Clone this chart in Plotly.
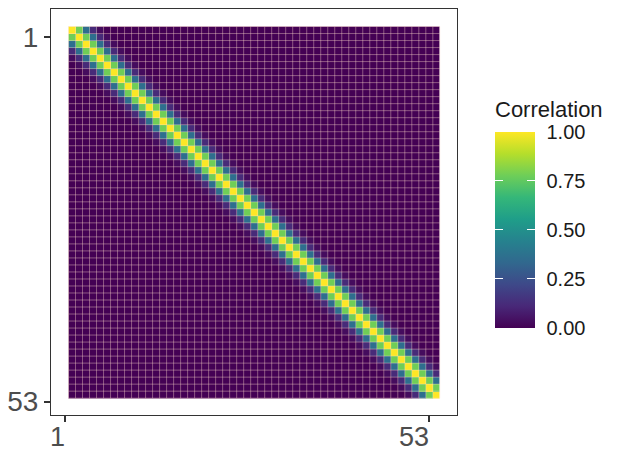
import plotly.graph_objects as go

# ---- data ----
n_vars = 53
col_pos = list(range(2, 55))          # x centres of the 53 columns
row_pos = list(range(0, 53))          # y centres of the 53 rows
lag_corr = [1.00, 0.78, 0.36, 0.12, 0.03]   # correlation by distance from diagonal
x_tickvals = [1, 53]
x_ticktext = ["1", "53"]
y_tickvals = [1, 53]
y_ticktext = ["1", "53"]
cbar_ticks = [0.0, 0.25, 0.5, 0.75, 1.0]
legend_title = "Correlation"

# build matrix from the banded profile
z = []
for i in range(n_vars):
    row = []
    for j in range(n_vars):
        d = abs(i - j)
        row.append(lag_corr[d] if d < len(lag_corr) else 0.0)
    z.append(row)

FONT = "Liberation Sans, Arial, sans-serif"
PLOT_W = 406          # plot-area width in px
CB_X = 1.0936
CB_Y = 0.456
CB_LEN = 196
CB_THICK = 40
TICK_LEN = 8

fig = go.Figure()
fig.add_trace(go.Heatmap(
    x=col_pos, y=row_pos, z=z,
    colorscale="Viridis", zmin=0, zmax=1,
    colorbar=dict(
        thickness=CB_THICK, thicknessmode="pixels",
        len=CB_LEN, lenmode="pixels",
        x=CB_X, xanchor="left", xref="paper",
        y=CB_Y, yanchor="middle",
        outlinewidth=0, xpad=0, ypad=0,
        tickvals=cbar_ticks, tickformat=".2f",
        ticks="outside", ticklen=8, tickcolor="white", tickwidth=1,
        tickfont=dict(family=FONT, size=20, color="#1a1a1a"),
    ),
    hoverinfo="skip",
))

# invisible helper scales that only draw the white tick marks inside the bar
for x_off in (0.0, (CB_THICK - TICK_LEN) / PLOT_W):
    fig.add_trace(go.Heatmap(
        x=col_pos[:1], y=row_pos[:1], z=[[0.0]],
        colorscale="Viridis", zmin=0, zmax=1, opacity=0,
        colorbar=dict(
            thickness=0, thicknessmode="pixels",
            len=CB_LEN, lenmode="pixels",
            x=CB_X + x_off, xanchor="left", xref="paper",
            y=CB_Y, yanchor="middle",
            outlinewidth=0, xpad=0, ypad=0,
            tickvals=cbar_ticks[1:-1], showticklabels=False,
            ticks="outside", ticklen=TICK_LEN, tickcolor="white", tickwidth=1,
        ),
        hoverinfo="skip",
    ))

# cell borders
gx, gy = [], []
x_edges = [c - 0.5 for c in col_pos] + [col_pos[-1] + 0.5]
y_edges = [r - 0.5 for r in row_pos] + [row_pos[-1] + 0.5]
for xe in x_edges:
    gx += [xe, xe, None]
    gy += [y_edges[0], y_edges[-1], None]
for ye in y_edges:
    gx += [x_edges[0], x_edges[-1], None]
    gy += [ye, ye, None]
fig.add_trace(go.Scatter(x=gx, y=gy, mode="lines",
                         line=dict(color="rgba(255,220,205,0.5)", width=0.8),
                         hoverinfo="skip", showlegend=False))

axis_common = dict(showgrid=False, zeroline=False, showline=True, mirror=True,
                   linecolor="#333333", linewidth=1.2,
                   ticks="outside", ticklen=6, tickwidth=1.5, tickcolor="#333333")

fig.update_xaxes(range=[-1.0, 56.95], tickvals=x_tickvals, showticklabels=False,
                 **axis_common)
fig.update_yaxes(range=[54.9, -3.0], tickvals=y_tickvals, ticktext=y_ticktext,
                 tickfont=dict(family=FONT, size=28, color="#4d4d4d"),
                 ticklabelstandoff=0, **axis_common)

for v, t in zip(x_tickvals, x_ticktext):
    fig.add_annotation(x=v, xref="x", y=0, yref="paper", text=t,
                       showarrow=False, xanchor="right", yanchor="top",
                       xshift=2, yshift=-5,
                       font=dict(family=FONT, size=27, color="#4d4d4d"))

fig.add_annotation(x=CB_X, xref="paper", y=0.752, yref="paper",
                   text=legend_title, showarrow=False,
                   xanchor="left", yanchor="middle", xshift=-2,
                   font=dict(family=FONT, size=22, color="#1a1a1a"))

# the page places the figure 8px in from the top-left corner
fig.update_layout(
    width=611, height=442,
    margin=dict(l=43, r=162, t=1, b=35, pad=0, autoexpand=False),
    paper_bgcolor="white", plot_bgcolor="white",
    showlegend=False,
)

fig.write_html("out.html")
